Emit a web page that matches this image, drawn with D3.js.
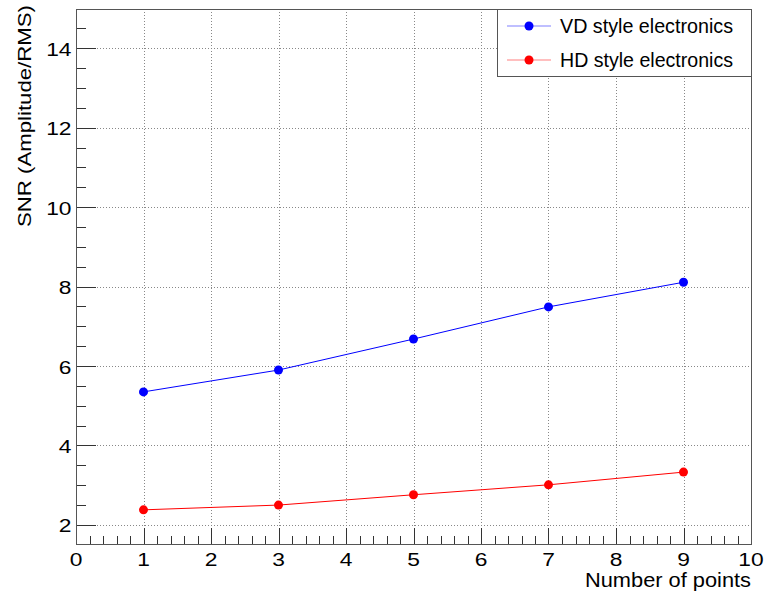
<!DOCTYPE html>
<html>
<head>
<meta charset="utf-8">
<script src="https://cdn.jsdelivr.net/npm/d3@7"></script>
<style>
  body { margin: 0; background: #fff; }
  text { font-family: "Liberation Sans", Arial, sans-serif; fill: #000; }
</style>
</head>
<body>
<div id="chart"></div>
<script>
// data
var nPoints = [1, 3, 5, 7, 9];
var vdSNR = [5.35, 5.90, 6.68, 7.49, 8.11];
var hdSNR = [2.38, 2.50, 2.76, 3.01, 3.33];
var seriesNames = ["VD style electronics", "HD style electronics"];
var seriesColors = ["#0000ff", "#ff0000"];
var xTicks = [0, 1, 2, 3, 4, 5, 6, 7, 8, 9, 10];
var yTicks = [2, 4, 6, 8, 10, 12, 14];

var width = 765, height = 593;
var margin = {left: 76, right: 14, top: 9, bottom: 49};

var svg = d3.select("#chart").append("svg")
    .attr("width", width)
    .attr("height", height);

var x = d3.scaleLinear().domain([0, 10]).range([margin.left, width - margin.right]);
var y = d3.scaleLinear().domain([1.52, 14.99]).range([height - margin.bottom, margin.top]);

var x0 = x.range()[0], x1 = x.range()[1];
var y0 = y.range()[0], y1 = y.range()[1];

//grid lines, dotted
var grid = svg.append("g").attr("stroke", "#888").attr("stroke-dasharray", "1,2").attr("stroke-width", 1);
grid.selectAll(".gx").data(xTicks.slice(1, -1)).enter().append("line")
    .attr("x1", function(d) { return Math.round(x(d)) + 0.5; })
    .attr("x2", function(d) { return Math.round(x(d)) + 0.5; })
    .attr("y1", y1).attr("y2", y0);
grid.selectAll(".gy").data(yTicks).enter().append("line")
    .attr("y1", function(d) { return Math.round(y(d)) + 0.5; })
    .attr("y2", function(d) { return Math.round(y(d)) + 0.5; })
    .attr("x1", x0).attr("x2", x1);

//ticks inside the frame
var ticks = svg.append("g").attr("stroke", "#333").attr("stroke-width", 1);
var xMinor = d3.range(0, 10.001, 0.2);
ticks.selectAll(".tx").data(xMinor).enter().append("line")
    .attr("x1", function(d) { return Math.round(x(d)) + 0.5; })
    .attr("x2", function(d) { return Math.round(x(d)) + 0.5; })
    .attr("y1", y0)
    .attr("y2", function(d) { return Math.abs(d - Math.round(d)) < 1e-6 ? y0 - 16 : y0 - 8; });
var yMinor = d3.range(2, 15.001, 0.5);
ticks.selectAll(".ty").data(yMinor).enter().append("line")
    .attr("y1", function(d) { return Math.round(y(d)) + 0.5; })
    .attr("y2", function(d) { return Math.round(y(d)) + 0.5; })
    .attr("x1", x0)
    .attr("x2", function(d) { return d % 2 === 0 ? x0 + 20 : x0 + 10; });

//frame
svg.append("rect")
    .attr("x", x0 + 0.5).attr("y", y1 + 0.5)
    .attr("width", x1 - x0).attr("height", y0 - y1)
    .attr("fill", "none").attr("stroke", "#555").attr("stroke-width", 1);

//tick labels (the original font is a bit wider, so stretch a little)
svg.append("g").selectAll("text").data(xTicks).enter().append("text")
    .attr("transform", function(d) { return "translate(" + x(d) + "," + (y0 + 22) + ") scale(1.2,1)"; })
    .attr("text-anchor", "middle")
    .attr("font-size", 19)
    .text(function(d) { return d; });
svg.append("g").selectAll("text").data(yTicks).enter().append("text")
    .attr("transform", function(d) { return "translate(" + (x0 - 4.5) + "," + (y(d) + 7.5) + ") scale(1.2,1)"; })
    .attr("text-anchor", "end")
    .attr("font-size", 19)
    .text(function(d) { return d; });

//axis titles
svg.append("text")
    .attr("x", x1 - 166)
    .attr("y", 587)
    .attr("font-size", 20.5)
    .attr("textLength", 166)
    .attr("lengthAdjust", "spacingAndGlyphs")
    .text("Number of points");
svg.append("text")
    .attr("transform", "translate(31,5) rotate(-90)")
    .attr("text-anchor", "end")
    .attr("font-size", 18.5)
    .attr("textLength", 222)
    .attr("lengthAdjust", "spacingAndGlyphs")
    .text("SNR (Amplitude/RMS)");

//series
var allSeries = [vdSNR, hdSNR];
var line = d3.line()
    .x(function(d) { return x(d[0]); })
    .y(function(d) { return y(d[1]); });

allSeries.forEach(function(vals, i) {
    var pts = nPoints.map(function(n, j) { return [n, vals[j]]; });
    svg.append("path")
        .datum(pts)
        .attr("fill", "none")
        .attr("stroke", seriesColors[i])
        .attr("stroke-width", 1)
        .attr("d", line);
    svg.append("g").selectAll("circle").data(pts).enter().append("circle")
        .attr("cx", function(d) { return x(d[0]); })
        .attr("cy", function(d) { return y(d[1]); })
        .attr("r", 4.5)
        .attr("fill", seriesColors[i]);
});

//legend
var lg = svg.append("g");
lg.append("rect")
    .attr("x", 497.5).attr("y", y1 + 0.5)
    .attr("width", x1 - 497).attr("height", 67)
    .attr("fill", "#fff").attr("stroke", "#555").attr("stroke-width", 1);
seriesNames.forEach(function(name, i) {
    var ly = 26 + i * 34;
    lg.append("line")
        .attr("x1", 507).attr("x2", 551)
        .attr("y1", ly).attr("y2", ly)
        .attr("stroke", seriesColors[i]).attr("stroke-opacity", 0.5).attr("stroke-width", 1);
    lg.append("circle")
        .attr("cx", 529).attr("cy", ly).attr("r", 4.5)
        .attr("fill", seriesColors[i]);
    lg.append("text")
        .attr("x", 560).attr("y", ly + 7)
        .attr("font-size", 19.5)
        .attr("textLength", 173)
        .attr("lengthAdjust", "spacingAndGlyphs")
        .text(name);
});
</script>
</body>
</html>
